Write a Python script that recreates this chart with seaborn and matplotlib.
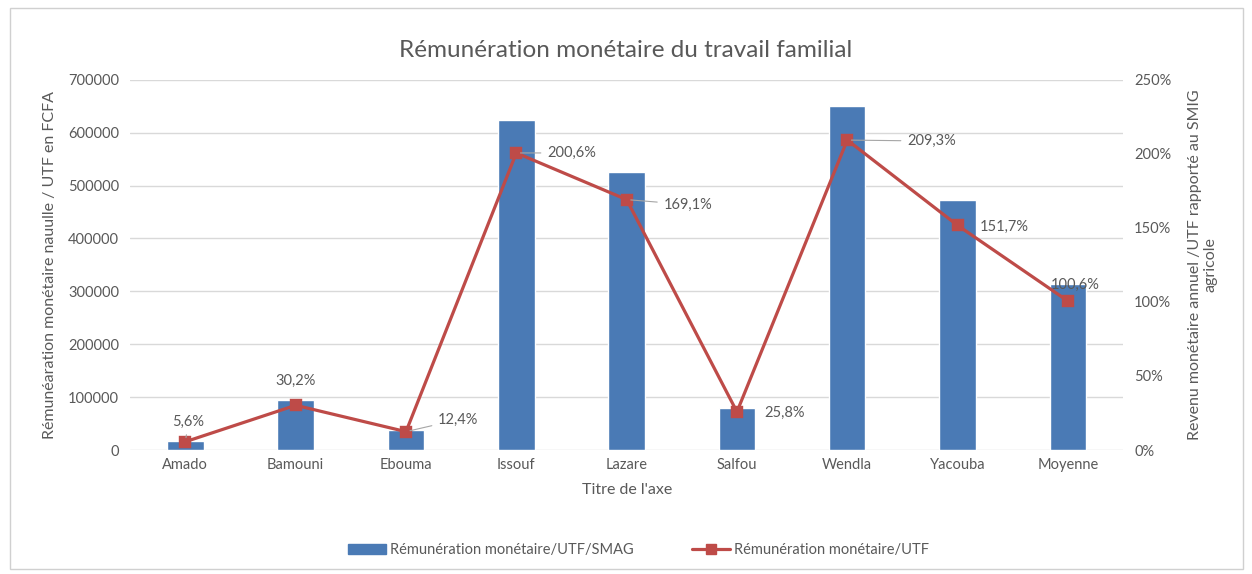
import numpy as np
import pandas as pd
import seaborn as sns
import matplotlib.pyplot as plt
from matplotlib.ticker import FuncFormatter
from matplotlib.lines import Line2D
from matplotlib.patches import Patch, Rectangle

categories = ['Amado', 'Bamouni', 'Ebouma', 'Issouf', 'Lazare', 'Salfou', 'Wendla', 'Yacouba', 'Moyenne']
remun_fcfa = [17400, 94000, 38600, 624000, 526000, 80300, 651000, 472000, 313000]
remun_pct = [5.6, 30.2, 12.4, 200.6, 169.1, 25.8, 209.3, 151.7, 100.6]
pct_labels = ['5,6%', '30,2%', '12,4%', '200,6%', '169,1%', '25,8%', '209,3%', '151,7%', '100,6%']

# label offsets in pixels (dx, dy) and whether a leader line is drawn
label_offsets = [(3, 20), (0, 24), (52, 12), (55, 0), (61, -5), (48, -1), (84, -1), (47, -2), (7, 16)]
leaders = [True, False, True, True, True, False, True, False, False]

df = pd.DataFrame({'cat': categories, 'fcfa': remun_fcfa, 'pct': remun_pct})

blue = '#4a7ab5'
red = '#be4b48'
grey = '#595959'

sns.set_style('white')
plt.rcParams['font.family'] = ['Lato', 'DejaVu Sans']

fig = plt.figure(figsize=(12.52, 5.74), dpi=100)
ax1 = fig.add_axes([0.104, 0.216, 0.793, 0.645])
ax2 = ax1.twinx()

sns.barplot(data=df, x='cat', y='fcfa', ax=ax1, color=blue, width=0.33, saturation=1)
sns.pointplot(data=df, x='cat', y='pct', ax=ax2, color=red, markers='s',
              markersize=6.5, linewidth=2.3)

ax1.set_ylim(0, 700000)
ax1.set_yticks(np.arange(0, 700001, 100000))
ax2.set_ylim(0, 250)
ax2.set_yticks(np.arange(0, 251, 50))
ax2.yaxis.set_major_formatter(FuncFormatter(lambda v, p: f'{int(v)}%'))
ax1.set_xlim(-0.5, 8.5)
ax2.set_xlim(-0.5, 8.5)

ax1.yaxis.grid(True, color='#d9d9d9', linewidth=1)
ax1.set_axisbelow(True)
for a in (ax1, ax2):
    for s in a.spines.values():
        s.set_visible(False)
    a.tick_params(length=0, labelsize=10.5, colors=grey, pad=8)
ax1.tick_params(axis='x', pad=6)

ax1.set_xlabel("Titre de l'axe", fontsize=11.5, color=grey, labelpad=8)
ax1.set_ylabel('Rémunéaration monétaire nauulle / UTF en FCFA', fontsize=11.5, color=grey, labelpad=8)
ax2.set_ylabel('Revenu monétaire annuel /UTF rapporté au SMIG\nagricole', fontsize=11.5,
               color=grey, labelpad=12, linespacing=1.1)
ax2.set_xlabel('')

for i, (lab, (dx, dy), ld) in enumerate(zip(pct_labels, label_offsets, leaders)):
    ap = dict(arrowstyle='-', color='#a6a6a6', lw=0.8, shrinkA=2, shrinkB=3) if ld else None
    ax2.annotate(lab, (i, remun_pct[i]), xytext=(dx, dy), textcoords='offset pixels',
                 ha='center', va='center', fontsize=10.5, color=grey, arrowprops=ap, zorder=5)

fig.suptitle('Rémunération monétaire du travail familial', y=0.93, fontsize=17.5, color=grey)

handles = [Patch(color=blue, label='Rémunération monétaire/UTF/SMAG'),
           Line2D([], [], color=red, lw=2.3, marker='s', markersize=6.5,
                  label='Rémunération monétaire/UTF')]
fig.legend(handles=handles, loc='center', bbox_to_anchor=(0.51, 0.042), ncol=2, frameon=False,
           fontsize=10.5, labelcolor=grey, columnspacing=4, handlelength=2.6, handletextpad=0.3)

fig.patches.append(Rectangle((0.008, 0.008), 0.985, 0.978, transform=fig.transFigure,
                             fill=False, edgecolor='#d0d0d0', linewidth=1))

fig.savefig('out.png', dpi=100)
